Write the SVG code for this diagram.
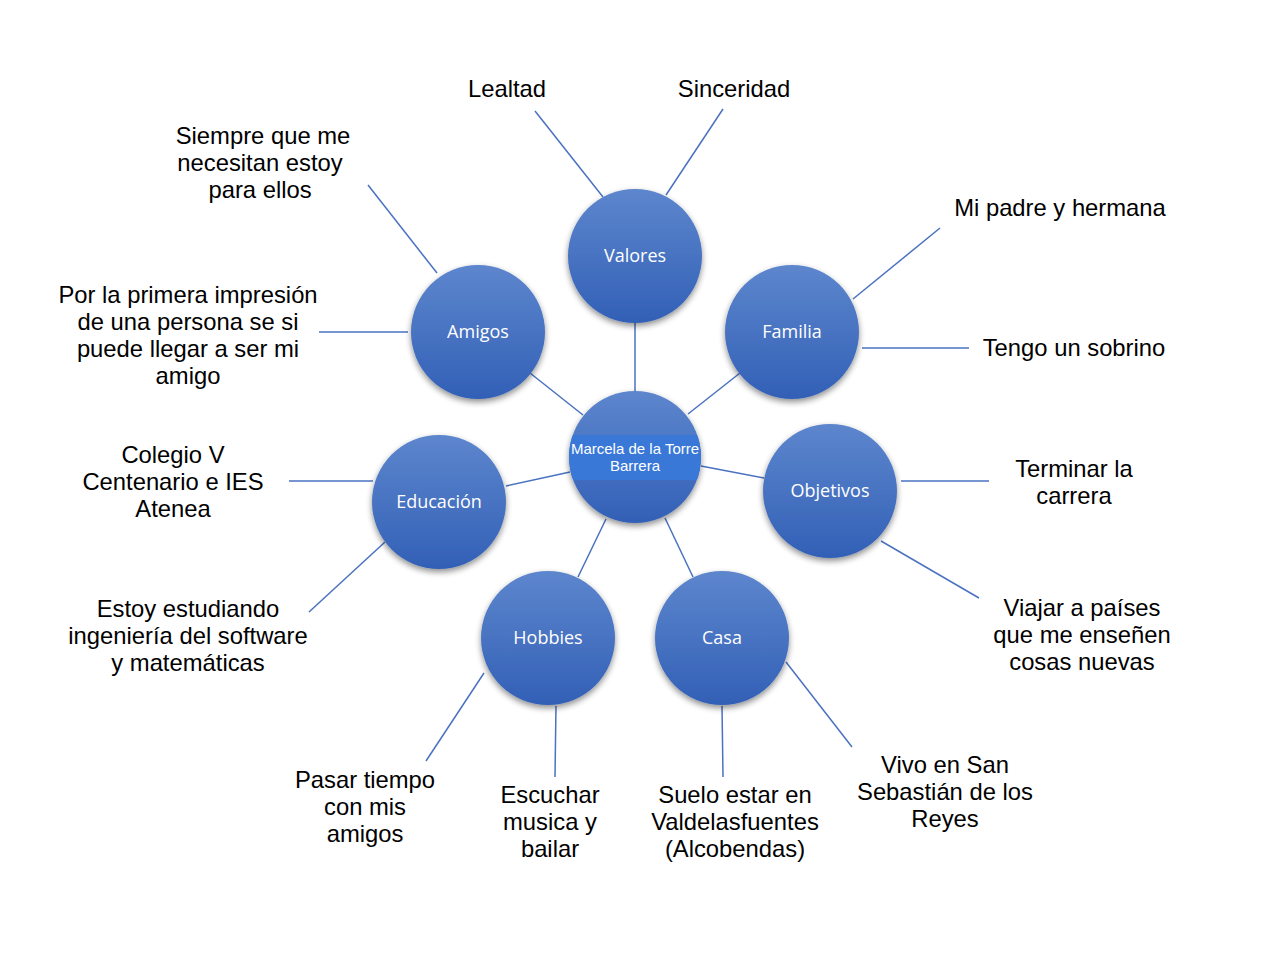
<svg xmlns="http://www.w3.org/2000/svg" width="1288" height="968" viewBox="0 0 1288 968">
<defs>
<linearGradient id="g" x1="0" y1="0" x2="0" y2="1">
<stop offset="0" stop-color="#5d86cd"/>
<stop offset="1" stop-color="#3260b6"/>
</linearGradient>
<filter id="sh" x="-30%" y="-30%" width="160%" height="160%">
<feGaussianBlur in="SourceAlpha" stdDeviation="3"/>
<feOffset dx="0" dy="3" result="b"/>
<feComponentTransfer><feFuncA type="linear" slope="0.45"/></feComponentTransfer>
<feMerge><feMergeNode/><feMergeNode in="SourceGraphic"/></feMerge>
</filter>
<clipPath id="cc"><circle cx="635" cy="457" r="66"/></clipPath>
</defs>
<style>
.n{fill:url(#g);filter:url(#sh)}
.nl{font-family:"Open Sans","Noto Sans",sans-serif;font-size:18px;fill:#fff;text-anchor:middle}
.t{font-family:"Liberation Sans",Arial,sans-serif;font-size:23.8px;fill:#000;text-anchor:middle}
.c line{stroke:#4a72c0;stroke-width:1.5}
</style>
<rect width="1288" height="968" fill="#fff"/>
<g class="c" id="connectors">
<line x1="635" y1="323" x2="635" y2="391"/>
<line x1="530" y1="373" x2="583" y2="415"/>
<line x1="740" y1="373" x2="688" y2="414"/>
<line x1="506" y1="486" x2="570" y2="472"/>
<line x1="764" y1="478" x2="701" y2="466"/>
<line x1="578" y1="577" x2="606" y2="519"/>
<line x1="693" y1="577" x2="665" y2="518"/>
<line x1="535" y1="111" x2="603" y2="197"/>
<line x1="723" y1="109" x2="666" y2="195"/>
<line x1="368" y1="185" x2="437" y2="273"/>
<line x1="319" y1="332" x2="408" y2="332"/>
<line x1="940" y1="228" x2="853" y2="299"/>
<line x1="862" y1="348" x2="969" y2="348"/>
<line x1="289" y1="481" x2="373" y2="481"/>
<line x1="309" y1="612" x2="385" y2="542"/>
<line x1="901" y1="481" x2="989" y2="481"/>
<line x1="881" y1="541" x2="979" y2="598"/>
<line x1="426" y1="761" x2="484" y2="673"/>
<line x1="556" y1="706" x2="555" y2="777"/>
<line x1="722" y1="706" x2="723" y2="777"/>
<line x1="786" y1="662" x2="852" y2="747"/>
</g>
<g id="valores"><circle class="n" cx="635" cy="256" r="67"/><text class="nl" x="635" y="262">Valores</text></g>
<g id="amigos"><circle class="n" cx="478" cy="332" r="67"/><text class="nl" x="478" y="338">Amigos</text></g>
<g id="familia"><circle class="n" cx="792" cy="332" r="67"/><text class="nl" x="792" y="338">Familia</text></g>
<g id="educacion"><circle class="n" cx="439" cy="502" r="67"/><text class="nl" x="439" y="508">Educación</text></g>
<g id="objetivos"><circle class="n" cx="830" cy="491" r="67"/><text class="nl" x="830" y="497">Objetivos</text></g>
<g id="hobbies"><circle class="n" cx="548" cy="638" r="67"/><text class="nl" x="548" y="644">Hobbies</text></g>
<g id="casa"><circle class="n" cx="722" cy="638" r="67"/><text class="nl" x="722" y="644">Casa</text></g>
<g id="centro"><circle class="n" cx="635" cy="457" r="66"/>
<rect x="565" y="435" width="140" height="45" fill="#3a78d8" clip-path="url(#cc)"/>
<text font-family="'Liberation Sans',Arial,sans-serif" font-size="15" fill="#fff" text-anchor="middle"><tspan x="635" y="454">Marcela de la Torre</tspan><tspan x="635" y="471">Barrera</tspan></text></g>
<g id="labels">
<text class="t" x="507" y="97">Lealtad</text>
<text class="t" x="734" y="97">Sinceridad</text>
<text class="t"><tspan x="263" y="144">Siempre que me</tspan><tspan x="260" y="171">necesitan estoy</tspan><tspan x="260" y="198">para ellos</tspan></text>
<text class="t" x="1060" y="216">Mi padre y hermana</text>
<text class="t"><tspan x="188" y="303">Por la primera impresión</tspan><tspan x="188" y="330">de una persona se si</tspan><tspan x="188" y="357">puede llegar a ser mi</tspan><tspan x="188" y="384">amigo</tspan></text>
<text class="t" x="1074" y="356">Tengo un sobrino</text>
<text class="t"><tspan x="173" y="463">Colegio V</tspan><tspan x="173" y="490">Centenario e IES</tspan><tspan x="173" y="517">Atenea</tspan></text>
<text class="t"><tspan x="1074" y="477">Terminar la</tspan><tspan x="1074" y="504">carrera</tspan></text>
<text class="t"><tspan x="188" y="617">Estoy estudiando</tspan><tspan x="188" y="644">ingeniería del software</tspan><tspan x="188" y="671">y matemáticas</tspan></text>
<text class="t"><tspan x="1082" y="616">Viajar a países</tspan><tspan x="1082" y="643">que me enseñen</tspan><tspan x="1082" y="670">cosas nuevas</tspan></text>
<text class="t"><tspan x="365" y="788">Pasar tiempo</tspan><tspan x="365" y="815">con mis</tspan><tspan x="365" y="842">amigos</tspan></text>
<text class="t"><tspan x="550" y="803">Escuchar</tspan><tspan x="550" y="830">musica y</tspan><tspan x="550" y="857">bailar</tspan></text>
<text class="t"><tspan x="735" y="803">Suelo estar en</tspan><tspan x="735" y="830">Valdelasfuentes</tspan><tspan x="735" y="857">(Alcobendas)</tspan></text>
<text class="t"><tspan x="945" y="773">Vivo en San</tspan><tspan x="945" y="800">Sebastián de los</tspan><tspan x="945" y="827">Reyes</tspan></text>
</g>
</svg>
